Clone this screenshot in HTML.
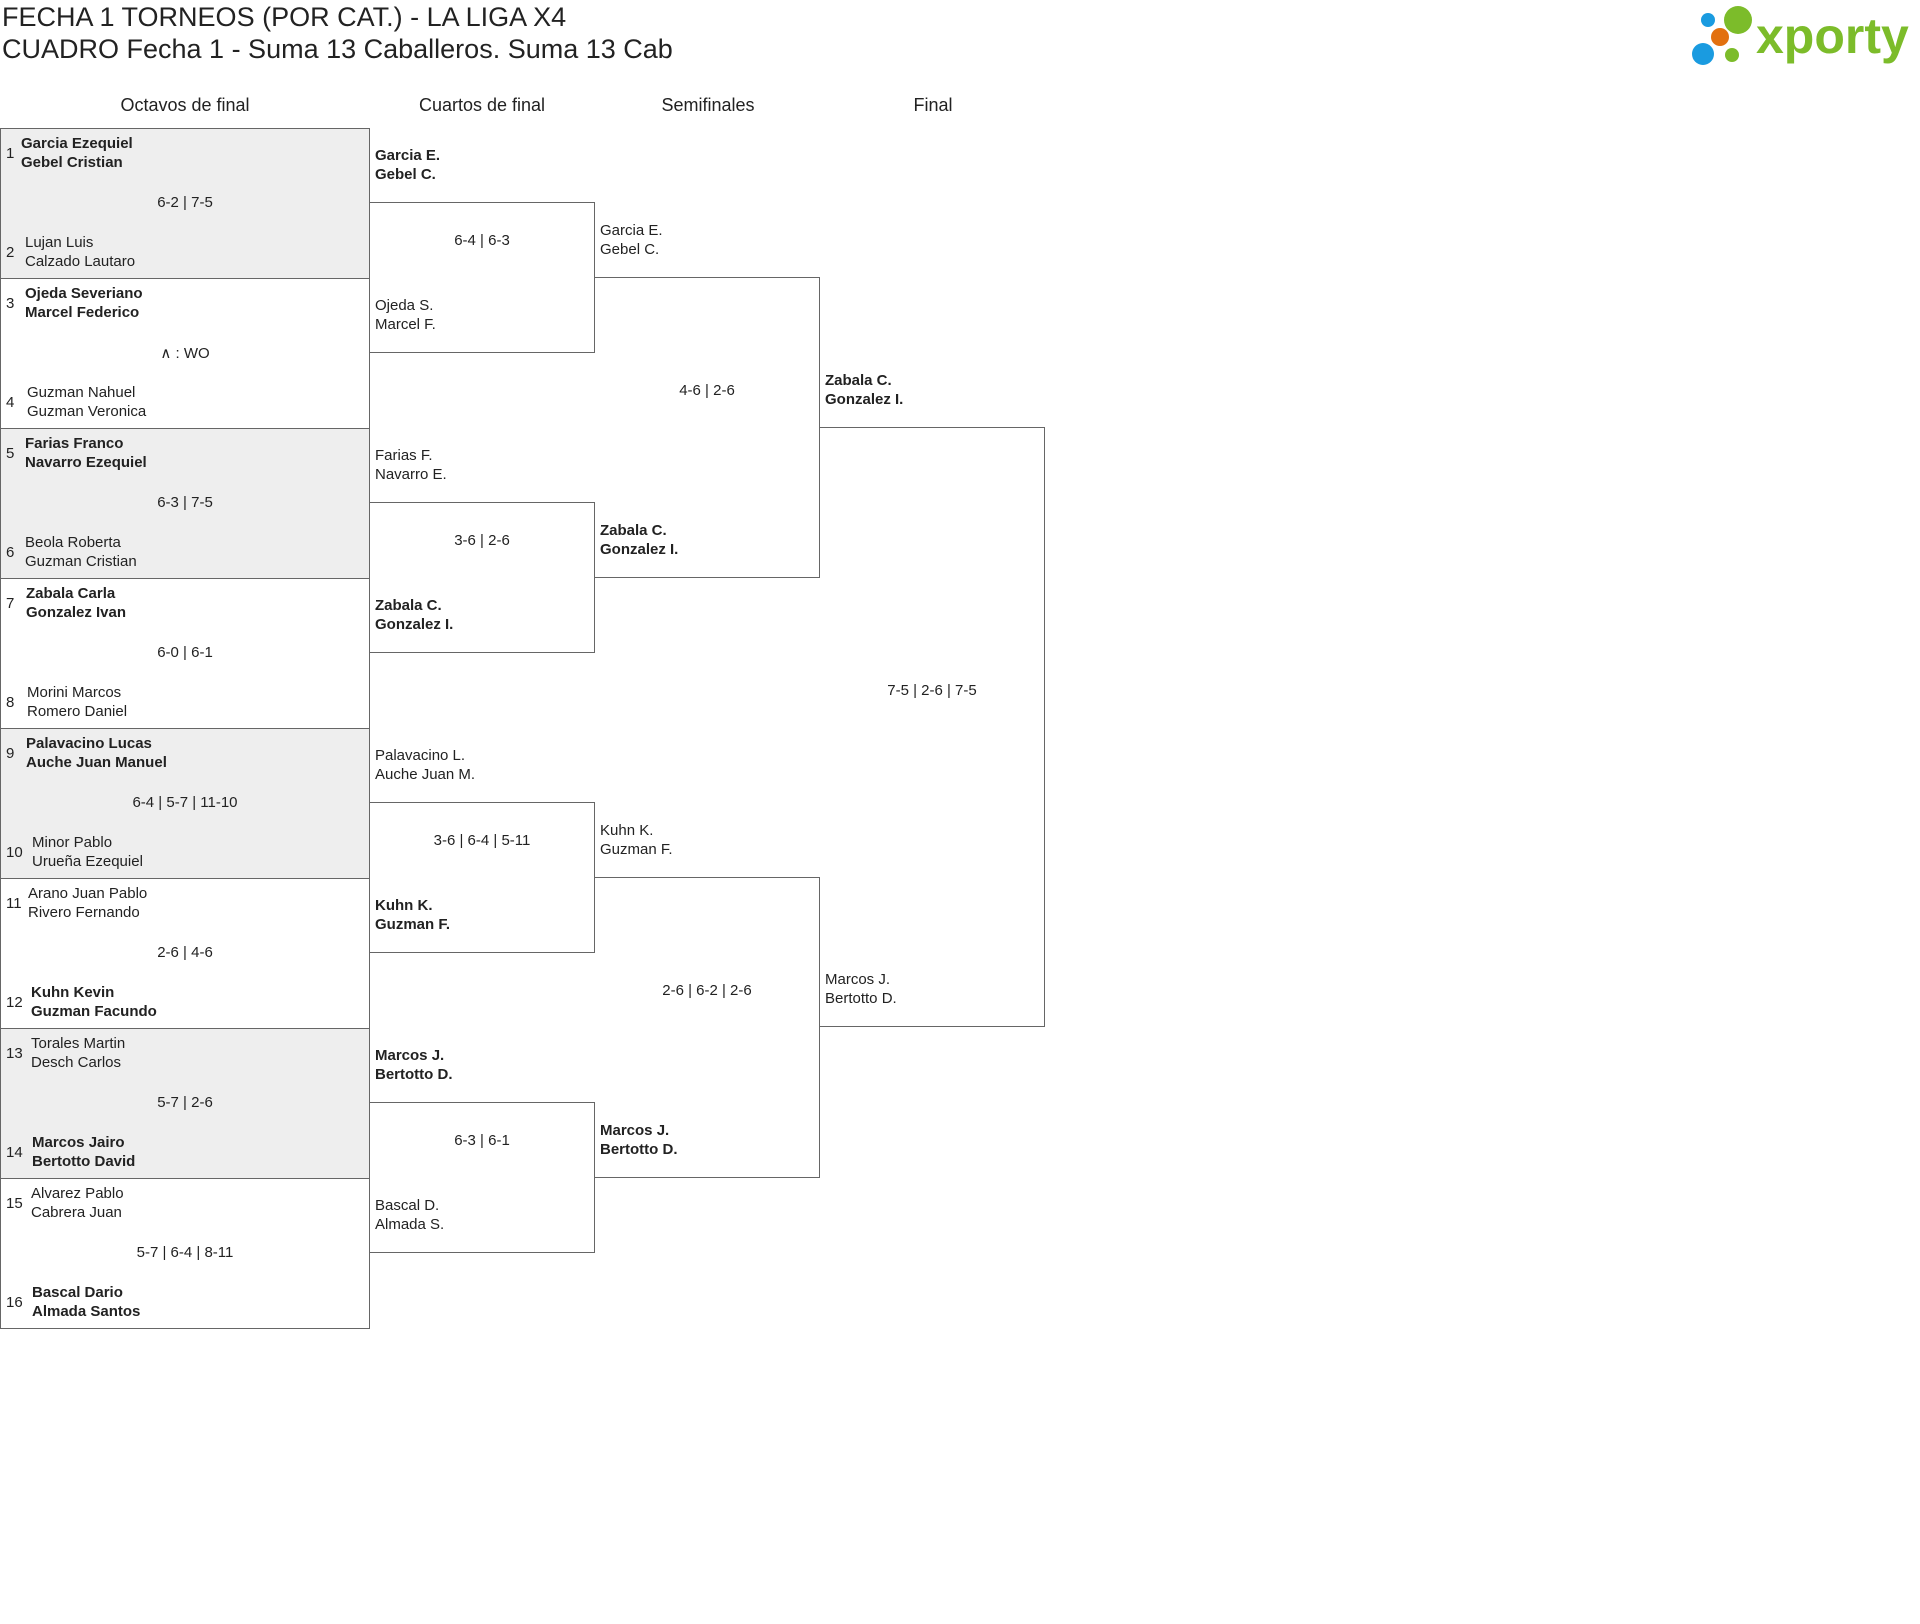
<!DOCTYPE html>
<html><head><meta charset="utf-8"><style>
body{margin:0;width:1920px;height:1624px;background:#fff;font-family:"Liberation Sans",sans-serif;color:#222;position:relative;overflow:hidden}
div{position:absolute;box-sizing:border-box}
.t{font-size:27px;left:2px;white-space:nowrap}
.h{font-size:18px;width:220px;text-align:center;top:95px}
.r{left:0;width:370px;height:151px;border:1px solid #666}
.g{background:#eee}
.n{font-size:15px;line-height:19px;white-space:nowrap}
.b{font-weight:bold}
.s{font-size:15px;text-align:center}
.bx{border:1px solid #666;border-left:none}
</style></head><body>
<div class="t" style="top:2px">FECHA 1 TORNEOS (POR CAT.) - LA LIGA X4</div>
<div class="t" style="top:34px">CUADRO Fecha 1 - Suma 13 Caballeros. Suma 13 Cab</div>
<svg style="position:absolute;left:1690px;top:4px" width="230" height="64">
<circle cx="18" cy="16" r="7" fill="#1a9be0"/><circle cx="48" cy="16" r="14" fill="#7cbc2a"/>
<circle cx="30" cy="33" r="9" fill="#e2700f"/><circle cx="13" cy="50" r="11" fill="#1a9be0"/><circle cx="42" cy="51" r="7" fill="#7cbc2a"/>
<text x="66" y="49" font-family="Liberation Sans" font-weight="bold" font-size="50" fill="#7cbc2a">xporty</text></svg>
<div class="h" style="left:75px">Octavos de final</div>
<div class="h" style="left:372px">Cuartos de final</div>
<div class="h" style="left:598px">Semifinales</div>
<div class="h" style="left:823px">Final</div>

<div class="r g" style="top:128px"><div class="n" style="left:5px;top:15px">1</div><div class="n b" style="left:20px;top:5px">Garcia Ezequiel<br>Gebel Cristian</div><div class="s" style="left:0;width:368px;top:65px">6-2 | 7-5</div><div class="n" style="left:5px;top:114px">2</div><div class="n" style="left:24px;top:104px">Lujan Luis<br>Calzado Lautaro</div></div>
<div class="r" style="top:278px"><div class="n" style="left:5px;top:15px">3</div><div class="n b" style="left:24px;top:5px">Ojeda Severiano<br>Marcel Federico</div><div class="s" style="left:0;width:368px;top:65px">∧ : WO</div><div class="n" style="left:5px;top:114px">4</div><div class="n" style="left:26px;top:104px">Guzman Nahuel<br>Guzman Veronica</div></div>
<div class="r g" style="top:428px"><div class="n" style="left:5px;top:15px">5</div><div class="n b" style="left:24px;top:5px">Farias Franco<br>Navarro Ezequiel</div><div class="s" style="left:0;width:368px;top:65px">6-3 | 7-5</div><div class="n" style="left:5px;top:114px">6</div><div class="n" style="left:24px;top:104px">Beola Roberta<br>Guzman Cristian</div></div>
<div class="r" style="top:578px"><div class="n" style="left:5px;top:15px">7</div><div class="n b" style="left:25px;top:5px">Zabala Carla<br>Gonzalez Ivan</div><div class="s" style="left:0;width:368px;top:65px">6-0 | 6-1</div><div class="n" style="left:5px;top:114px">8</div><div class="n" style="left:26px;top:104px">Morini Marcos<br>Romero Daniel</div></div>
<div class="r g" style="top:728px"><div class="n" style="left:5px;top:15px">9</div><div class="n b" style="left:25px;top:5px">Palavacino Lucas<br>Auche Juan Manuel</div><div class="s" style="left:0;width:368px;top:65px">6-4 | 5-7 | 11-10</div><div class="n" style="left:5px;top:114px">10</div><div class="n" style="left:31px;top:104px">Minor Pablo<br>Urueña Ezequiel</div></div>
<div class="r" style="top:878px"><div class="n" style="left:5px;top:15px">11</div><div class="n" style="left:27px;top:5px">Arano Juan Pablo<br>Rivero Fernando</div><div class="s" style="left:0;width:368px;top:65px">2-6 | 4-6</div><div class="n" style="left:5px;top:114px">12</div><div class="n b" style="left:30px;top:104px">Kuhn Kevin<br>Guzman Facundo</div></div>
<div class="r g" style="top:1028px"><div class="n" style="left:5px;top:15px">13</div><div class="n" style="left:30px;top:5px">Torales Martin<br>Desch Carlos</div><div class="s" style="left:0;width:368px;top:65px">5-7 | 2-6</div><div class="n" style="left:5px;top:114px">14</div><div class="n b" style="left:31px;top:104px">Marcos Jairo<br>Bertotto David</div></div>
<div class="r" style="top:1178px"><div class="n" style="left:5px;top:15px">15</div><div class="n" style="left:30px;top:5px">Alvarez Pablo<br>Cabrera Juan</div><div class="s" style="left:0;width:368px;top:65px">5-7 | 6-4 | 8-11</div><div class="n" style="left:5px;top:114px">16</div><div class="n b" style="left:31px;top:104px">Bascal Dario<br>Almada Santos</div></div>

<div class="bx" style="left:369px;top:202px;width:226px;height:151px"></div>
<div class="bx" style="left:369px;top:502px;width:226px;height:151px"></div>
<div class="bx" style="left:369px;top:802px;width:226px;height:151px"></div>
<div class="bx" style="left:369px;top:1102px;width:226px;height:151px"></div>
<div class="n b" style="left:375px;top:146px">Garcia E.<br>Gebel C.</div>
<div class="s" style="left:369px;width:226px;top:232px">6-4 | 6-3</div>
<div class="n" style="left:375px;top:296px">Ojeda S.<br>Marcel F.</div>
<div class="n" style="left:375px;top:446px">Farias F.<br>Navarro E.</div>
<div class="s" style="left:369px;width:226px;top:532px">3-6 | 2-6</div>
<div class="n b" style="left:375px;top:596px">Zabala C.<br>Gonzalez I.</div>
<div class="n" style="left:375px;top:746px">Palavacino L.<br>Auche Juan M.</div>
<div class="s" style="left:369px;width:226px;top:832px">3-6 | 6-4 | 5-11</div>
<div class="n b" style="left:375px;top:896px">Kuhn K.<br>Guzman F.</div>
<div class="n b" style="left:375px;top:1046px">Marcos J.<br>Bertotto D.</div>
<div class="s" style="left:369px;width:226px;top:1132px">6-3 | 6-1</div>
<div class="n" style="left:375px;top:1196px">Bascal D.<br>Almada S.</div>

<div class="bx" style="left:594px;top:277px;width:226px;height:301px"></div>
<div class="bx" style="left:594px;top:877px;width:226px;height:301px"></div>
<div class="n" style="left:600px;top:221px">Garcia E.<br>Gebel C.</div>
<div class="s" style="left:594px;width:226px;top:382px">4-6 | 2-6</div>
<div class="n b" style="left:600px;top:521px">Zabala C.<br>Gonzalez I.</div>
<div class="n" style="left:600px;top:821px">Kuhn K.<br>Guzman F.</div>
<div class="s" style="left:594px;width:226px;top:982px">2-6 | 6-2 | 2-6</div>
<div class="n b" style="left:600px;top:1121px">Marcos J.<br>Bertotto D.</div>

<div class="bx" style="left:819px;top:427px;width:226px;height:600px"></div>
<div class="n b" style="left:825px;top:371px">Zabala C.<br>Gonzalez I.</div>
<div class="s" style="left:819px;width:226px;top:682px">7-5 | 2-6 | 7-5</div>
<div class="n" style="left:825px;top:970px">Marcos J.<br>Bertotto D.</div>
</body></html>
